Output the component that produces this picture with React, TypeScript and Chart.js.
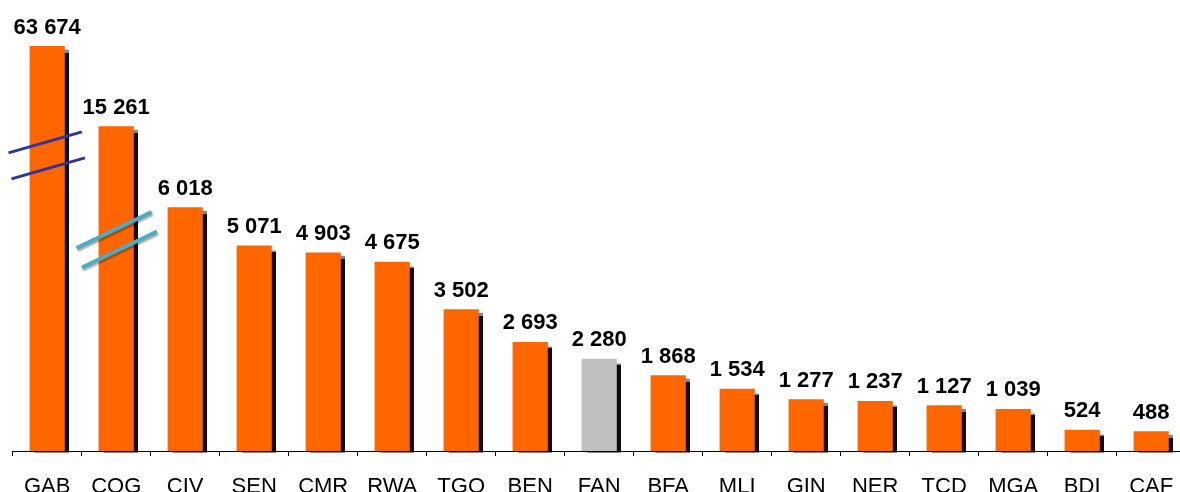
import React, { useEffect, useRef } from "react";
import { Chart, registerables } from "chart.js";

Chart.register(...registerables);

// ---- data ----
const categories = ["GAB", "COG", "CIV", "SEN", "CMR", "RWA", "TGO", "BEN", "FAN", "BFA", "MLI", "GIN", "NER", "TCD", "MGA", "BDI", "CAF"];
const values = [63674, 15261, 6018, 5071, 4903, 4675, 3502, 2693, 2280, 1868, 1534, 1277, 1237, 1127, 1039, 524, 488];
// heights drawn on the broken axis (GAB and COG are truncated)
const plottedValues = [10000, 8020, 6018, 5071, 4903, 4675, 3502, 2693, 2280, 1868, 1534, 1277, 1237, 1127, 1039, 524, 488];
const highlighted = ["FAN"];
// axis-break marks: category index and value level where they sit
const breakIndex = [0, 1];
const breakValue = [7300, 5217];

const ORANGE = "#FF6600";
const GREY = "#C0C0C0";
const FONT = "'Liberation Sans', Arial, sans-serif";

const fmt = (v: number) => String(v).replace(/\B(?=(\d{3})+(?!\d))/g, " ");

const shadowPlugin = {
  id: "barShadow",
  beforeDatasetsDraw(chart: any) {
    const ctx = chart.ctx;
    ctx.save();
    ctx.shadowColor = "rgba(0,0,0,0.95)";
    ctx.shadowOffsetX = 4;
    ctx.shadowOffsetY = 4;
    ctx.shadowBlur = 1;
  },
  afterDatasetsDraw(chart: any) {
    chart.ctx.restore();
  },
};

const labelPlugin = {
  id: "valueLabels",
  afterDraw(chart: any) {
    const ctx = chart.ctx;
    const meta = chart.getDatasetMeta(0);
    ctx.save();
    ctx.fillStyle = "#000";
    ctx.font = `bold 22px ${FONT}`;
    ctx.textAlign = "center";
    ctx.textBaseline = "alphabetic";
    meta.data.forEach((bar: any, i: number) => {
      ctx.fillText(fmt(values[i]), bar.x, bar.y - 12.5);
    });

    // break marks
    const xs = chart.scales.x;
    const ys = chart.scales.y;
    const styles = [
      { color: "#333399", width: 3, dx: 36.7, dy: 10.5, gx: 3, gy: 26, shadow: false },
      { color: "#4BACC6", width: 4, dx: 37.5, dy: 18, gx: 5.3, gy: 19.5, shadow: true },
    ];
    breakIndex.forEach((idx, k) => {
      const s = styles[k];
      const cx = xs.getPixelForValue(idx) + (k === 0 ? -0.5 : 0.6);
      const cy = ys.getPixelForValue(breakValue[k]);
      ctx.strokeStyle = s.color;
      ctx.lineWidth = s.width;
      ctx.lineCap = "butt";
      if (s.shadow) {
        ctx.shadowColor = "rgba(0,0,0,0.35)";
        ctx.shadowOffsetX = 1;
        ctx.shadowOffsetY = 2;
        ctx.shadowBlur = 2;
      }
      for (const sign of [-1, 1]) {
        const mx = cx + (sign * s.gx) / 2;
        const my = cy + (sign * s.gy) / 2;
        ctx.beginPath();
        ctx.moveTo(mx - s.dx, my + s.dy);
        ctx.lineTo(mx + s.dx, my - s.dy);
        ctx.stroke();
      }
      ctx.shadowColor = "transparent";
    });
    ctx.restore();
  },
};

export default function App() {
  const ref = useRef<HTMLCanvasElement | null>(null);

  useEffect(() => {
    if (!ref.current) return;
    const chart = new Chart(ref.current, {
      type: "bar",
      data: {
        labels: categories,
        datasets: [
          {
            data: plottedValues,
            backgroundColor: categories.map((c) => (highlighted.includes(c) ? GREY : ORANGE)),
            borderWidth: 0,
            categoryPercentage: 1,
            barPercentage: 0.51,
            clip: { left: 20, top: 100, right: 20, bottom: 1.5 } as any,
          },
        ],
      },
      options: {
        animation: false,
        responsive: false,
        devicePixelRatio: 1,
        layout: { padding: { left: 12.7, right: 14.3, top: 5.5, bottom: 0 } },
        plugins: {
          legend: { display: false },
          tooltip: { enabled: false },
          title: { display: false },
        },
        scales: {
          x: {
            offset: true,
            grid: {
              offset: true,
              drawOnChartArea: false,
              drawTicks: true,
              tickLength: 5,
              color: "#000",
              lineWidth: 1,
            },
            border: { display: true, color: "#000", width: 1 },
            ticks: {
              color: "#000",
              padding: 18,
              maxRotation: 0,
              autoSkip: false,
              font: { family: FONT, size: 22 },
            },
            afterFit: (scale: any) => {
              scale.height = 41;
            },
          },
          y: {
            display: false,
            min: 0,
            max: 11000,
          },
        },
      },
      plugins: [shadowPlugin, labelPlugin],
    });
    return () => chart.destroy();
  }, []);

  return (
    <div style={{ position: "fixed", left: 0, top: 0, width: 1200, height: 492, background: "#fff" }}>
      <canvas ref={ref} width={1200} height={492} style={{ width: 1200, height: 492, display: "block" }} />
    </div>
  );
}
